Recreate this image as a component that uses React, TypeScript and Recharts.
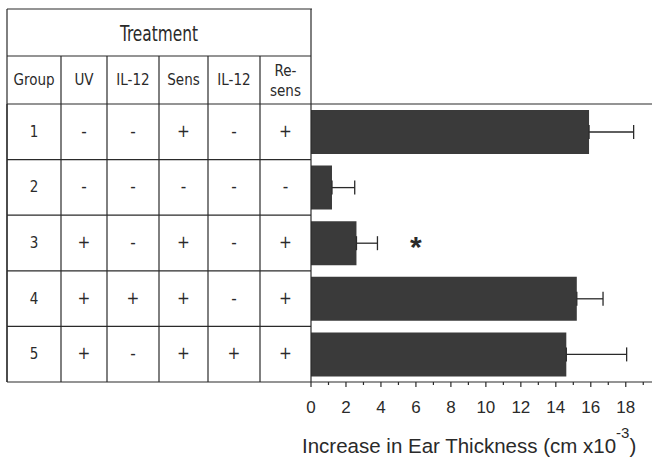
import {
  Bar,
  BarChart,
  Customized,
  ErrorBar,
  ReferenceDot,
  XAxis,
  YAxis,
} from "recharts";

const groups = ["1", "2", "3", "4", "5"];
const increase = [15.9, 1.2, 2.6, 15.2, 14.6];
const sem = [2.55, 1.3, 1.2, 1.5, 3.45];
const uv = ["-", "-", "+", "+", "+"];
const il12First = ["-", "-", "-", "+", "-"];
const sens = ["+", "-", "+", "+", "+"];
const il12Second = ["-", "-", "-", "-", "+"];
const resens = ["+", "-", "+", "+", "+"];
const columnHeaders = ["Group", "UV", "IL-12", "Sens", "IL-12", "Re-|sens"];
const xTicks = [0, 1, 2, 3, 4, 5, 6, 7, 8, 9, 10, 11, 12, 13, 14, 15, 16, 17, 18, 19];
const significantGroup = "3";

const data = groups.map((group, i) => ({
  group,
  value: increase[i],
  err: [0, sem[i]],
}));

const W = 652;
const H = 457;
const PLOT_TOP = 104;
const PLOT_BOTTOM = 382;
const PLOT_LEFT = 311;
const ROW_H = (PLOT_BOTTOM - PLOT_TOP) / groups.length;
const COLS = [7, 61, 107, 159, 208, 260, 311];
const TABLE_TOP = 9;
const HEADER_MID = 56;
const INK = "#2a2a2a";
const TABLE_FONT = "'Liberation Sans Narrow', 'Arial Narrow', 'DejaVu Sans Condensed', sans-serif";
const AXIS_FONT = "'Liberation Sans', Arial, sans-serif";

function TableRow(props: any) {
  const { y, payload } = props;
  const i = groups.indexOf(String(payload.value));
  const cells = [groups[i], uv[i], il12First[i], sens[i], il12Second[i], resens[i]];
  const top = y - ROW_H / 2;
  const bottom = y + ROW_H / 2;
  return (
    <g>
      <line x1={COLS[0]} x2={COLS[6]} y1={bottom} y2={bottom} stroke={INK} strokeWidth={1.2} />
      {COLS.slice(0, 6).map((cx) => (
        <line key={cx} x1={cx} x2={cx} y1={top} y2={bottom} stroke={INK} strokeWidth={1.2} />
      ))}
      {cells.map((c, k) => (
        <text
          key={k}
          x={(COLS[k] + COLS[k + 1]) / 2}
          y={y + 5}
          textAnchor="middle"
          fontFamily={TABLE_FONT}
          fontSize={k === 0 ? 15 : 17}
          fill={INK}
        >
          {c}
        </text>
      ))}
    </g>
  );
}

function XTick(props: any) {
  const { x, y, payload } = props;
  const major = payload.value % 2 === 0;
  return (
    <g>
      <line x1={x} x2={x} y1={y} y2={y + (major ? 5 : 3)} stroke={INK} strokeWidth={1.2} />
      {major && (
        <text x={x} y={y + 31} textAnchor="middle" fontFamily={AXIS_FONT} fontSize={17} fill={INK}>
          {payload.value}
        </text>
      )}
    </g>
  );
}

function TableHeader() {
  return (
    <g>
      <line x1={COLS[0]} x2={COLS[6] + 1} y1={TABLE_TOP} y2={TABLE_TOP} stroke={INK} strokeWidth={1.2} />
      <line x1={COLS[0]} x2={COLS[6]} y1={HEADER_MID} y2={HEADER_MID} stroke={INK} strokeWidth={1.2} />
      <line x1={COLS[0]} x2={W} y1={PLOT_TOP} y2={PLOT_TOP} stroke={INK} strokeWidth={1.2} />
      <line x1={COLS[0]} x2={COLS[0]} y1={TABLE_TOP} y2={PLOT_BOTTOM} stroke={INK} strokeWidth={1.2} />
      <line x1={COLS[6]} x2={COLS[6]} y1={TABLE_TOP} y2={PLOT_TOP} stroke={INK} strokeWidth={1.2} />
      {COLS.slice(1, 6).map((cx) => (
        <line key={cx} x1={cx} x2={cx} y1={HEADER_MID} y2={PLOT_TOP} stroke={INK} strokeWidth={1.2} />
      ))}
      <text
        x={(COLS[0] + COLS[6]) / 2}
        y={41}
        textAnchor="middle"
        fontFamily={TABLE_FONT}
        fontSize={21}
        textLength={78}
        lengthAdjust="spacingAndGlyphs"
        fill={INK}
      >
        Treatment
      </text>
      {columnHeaders.map((h, k) => {
        const cx = (COLS[k] + COLS[k + 1]) / 2;
        const parts = h.split("|");
        if (parts.length === 2) {
          return (
            <text key={k} textAnchor="middle" fontFamily={TABLE_FONT} fontSize={15} fill={INK}>
              <tspan x={cx} y={76}>{parts[0]}</tspan>
              <tspan x={cx} y={96}>{parts[1]}</tspan>
            </text>
          );
        }
        return (
          <text key={k} x={cx} y={85} textAnchor="middle" fontFamily={TABLE_FONT} fontSize={15} fill={INK}>
            {h}
          </text>
        );
      })}
      <text x={302} y={453} fontFamily={AXIS_FONT} fontSize={20.5} fill={INK}>
        Increase in Ear Thickness (cm x10
        <tspan dy={-15} fontSize={15}>-3</tspan>
        <tspan dy={15}>)</tspan>
      </text>
    </g>
  );
}

function Asterisk(props: any) {
  const { cx, cy } = props;
  return (
    <text x={cx} y={cy + 14} textAnchor="middle" fontFamily={AXIS_FONT} fontSize={30} fontWeight="bold" fill={INK}>
      *
    </text>
  );
}

export default function App() {
  return (
    <div style={{ position: "absolute", left: 0, top: 0, width: W, height: H, background: "#fff" }}>
      <BarChart
        width={W}
        height={H}
        data={data}
        layout="vertical"
        margin={{ top: PLOT_TOP, right: 0, bottom: 0, left: COLS[0] }}
      >
        <XAxis
          type="number"
          domain={[0, 19.5]}
          ticks={xTicks}
          interval={0}
          height={H - PLOT_BOTTOM}
          axisLine={{ stroke: INK, strokeWidth: 1.2 }}
          tickLine={false}
          tickSize={0}
          tickMargin={0}
          tick={<XTick />}
        />
        <YAxis
          type="category"
          dataKey="group"
          width={PLOT_LEFT - COLS[0]}
          axisLine={{ stroke: INK, strokeWidth: 1.2 }}
          tickLine={false}
          tickSize={0}
          tickMargin={0}
          tick={<TableRow />}
        />
        <Bar dataKey="value" fill="#3a3a3a" barSize={44} isAnimationActive={false}>
          <ErrorBar dataKey="err" direction="x" width={7} stroke={INK} strokeWidth={1.3} />
        </Bar>
        <ReferenceDot x={6} y={significantGroup} r={0} shape={<Asterisk />} />
        <Customized component={TableHeader} />
      </BarChart>
    </div>
  );
}
